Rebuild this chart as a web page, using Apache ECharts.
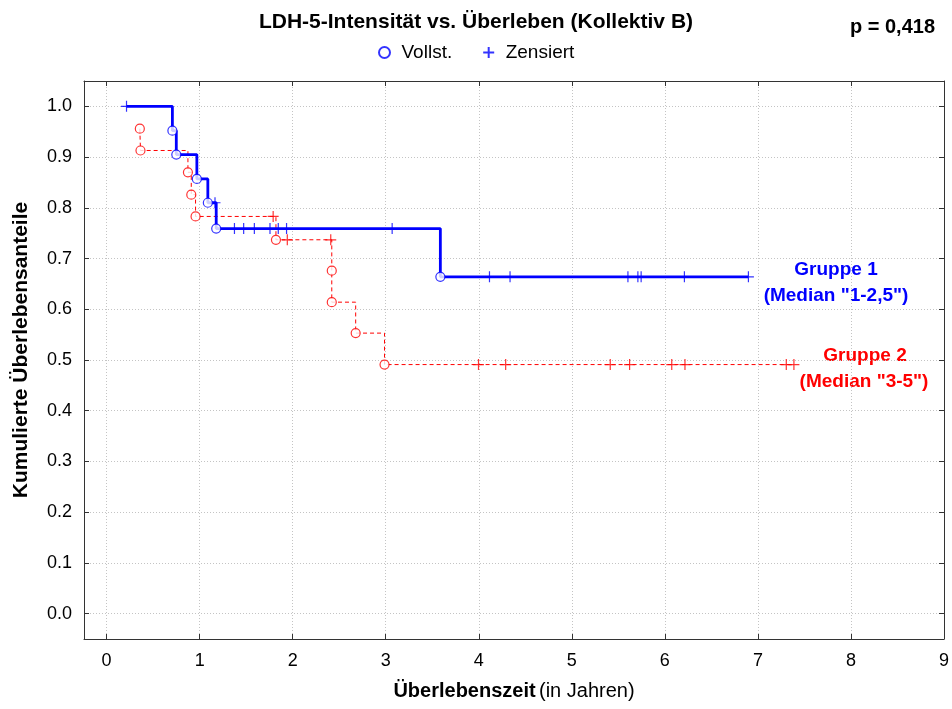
<!DOCTYPE html>
<html>
<head>
<meta charset="utf-8">
<script src="https://cdn.jsdelivr.net/npm/echarts@6/dist/echarts.min.js"></script>
<style>
html,body{margin:0;padding:0;background:#fff;}
#chart{width:952px;height:709px;}
</style>
</head>
<body>
<div id="chart"></div>
<script>
// ---- data ----
const xTicks = [0, 1, 2, 3, 4, 5, 6, 7, 8, 9];
const yTicks = [0.0, 0.1, 0.2, 0.3, 0.4, 0.5, 0.6, 0.7, 0.8, 0.9, 1.0];

// Gruppe 1 (Median "1-2,5") – Kaplan-Meier steps [time, survival]
const g1Curve = [[0.214, 1.0], [0.707, 0.952], [0.749, 0.905], [0.970, 0.857], [1.088, 0.810], [1.178, 0.759], [3.587, 0.664], [6.898, 0.664]];
const g1Deaths = [[0.707, 0.952], [0.749, 0.905], [0.970, 0.857], [1.088, 0.810], [1.178, 0.759], [3.587, 0.664]];
const g1Censored = [[0.214, 1.0], [1.165, 0.810], [1.374, 0.759], [1.473, 0.759], [1.588, 0.759], [1.756, 0.759], [1.845, 0.759], [1.934, 0.759], [3.069, 0.759],
  [4.115, 0.664], [4.336, 0.664], [5.603, 0.664], [5.710, 0.664], [5.745, 0.664], [6.210, 0.664], [6.898, 0.664]];

// Gruppe 2 (Median "3-5")
const g2Curve = [[0.357, 0.956], [0.364, 0.913], [0.874, 0.870], [0.910, 0.826], [0.956, 0.783], [1.820, 0.737], [2.420, 0.676], [2.420, 0.614], [2.677, 0.553], [2.987, 0.491], [7.387, 0.491]];
const g2Deaths = [[0.357, 0.956], [0.364, 0.913], [0.874, 0.870], [0.910, 0.826], [0.956, 0.783], [1.820, 0.737], [2.420, 0.676], [2.420, 0.614], [2.677, 0.553], [2.987, 0.491]];
const g2Censored = [[1.790, 0.783], [1.942, 0.737], [2.409, 0.737], [3.997, 0.491], [4.289, 0.491], [5.413, 0.491], [5.621, 0.491], [6.074, 0.491], [6.216, 0.491], [7.305, 0.491], [7.387, 0.491]];

const titleText = 'LDH-5-Intensität vs. Überleben (Kollektiv B)';
const pText = 'p = 0,418';
const legendNames = ['Vollst.', 'Zensiert'];
const g1Label = ['Gruppe 1', '(Median "1-2,5")'];
const g2Label = ['Gruppe 2', '(Median "3-5")'];

// ---- chart ----
const FONT = '"Liberation Sans", Arial, sans-serif';
const BLUE = '#0000ff';
const RED = '#ff0000';
const PLUS = 'path://M5,0L5,10M0,5L10,5';

const chart = echarts.init(document.getElementById('chart'), null, {renderer: 'canvas'});

const axisCommon = {
  type: 'value',
  axisLine: {show: true, onZero: false, lineStyle: {color: '#333', width: 1}},
};
const gridLine = {show: true, lineStyle: {type: [1, 2], color: '#c4c4c4', width: 1}};

const option = {
  backgroundColor: '#fff',
  animation: false,
  title: [
    {text: titleText, left: 'center', top: 12, padding: 0,
     textStyle: {fontFamily: FONT, fontSize: 21, fontWeight: 'bold', color: '#000'}},
    {text: pText, right: 17, top: 17, padding: 0,
     textStyle: {fontFamily: FONT, fontSize: 20, fontWeight: 'bold', color: '#000'}}
  ],
  legend: {
    data: [{name: legendNames[0]}, {name: legendNames[1]}],
    left: 378, top: 43, padding: 0,
    itemWidth: 14, itemHeight: 11, itemGap: 30,
    textStyle: {fontFamily: FONT, fontSize: 19, color: '#000', padding: [0, 0, 0, 5]}
  },
  grid: {left: 84, top: 81, right: 5, bottom: 70, containLabel: false},
  xAxis: [
    Object.assign({}, axisCommon, {
      position: 'bottom', min: -0.243, max: 9,
      axisTick: {show: true, inside: true, length: 5, customValues: xTicks, lineStyle: {color: '#333'}},
      axisLabel: {customValues: xTicks, margin: 13, fontFamily: FONT, fontSize: 18, color: '#000', formatter: v => String(Math.round(v))},
      splitLine: gridLine,
      name: '{b|Überlebenszeit} {n|(in Jahren)}',
      nameLocation: 'middle', nameGap: 42,
      nameTextStyle: {rich: {
        b: {fontFamily: FONT, fontSize: 20, fontWeight: 'bold', color: '#000'},
        n: {fontFamily: FONT, fontSize: 20, color: '#000'}
      }}
    }),
    Object.assign({}, axisCommon, {
      position: 'top', min: -0.243, max: 9,
      axisTick: {show: true, inside: true, length: 5, customValues: xTicks, lineStyle: {color: '#333'}},
      axisLabel: {show: false},
      splitLine: {show: false}
    })
  ],
  yAxis: [
    Object.assign({}, axisCommon, {
      position: 'left', min: -0.05, max: 1.05,
      axisTick: {show: true, inside: true, length: 5, customValues: yTicks, lineStyle: {color: '#333'}},
      axisLabel: {customValues: yTicks, margin: 12, fontFamily: FONT, fontSize: 18, color: '#000', formatter: v => v.toFixed(1)},
      splitLine: gridLine,
      name: 'Kumulierte Überlebensanteile',
      nameLocation: 'middle', nameGap: 52,
      nameTextStyle: {fontFamily: FONT, fontSize: 21, fontWeight: 'bold', color: '#000', padding: [0, 0, 0, 20]}
    }),
    Object.assign({}, axisCommon, {
      position: 'right', min: -0.05, max: 1.05,
      axisTick: {show: true, inside: true, length: 5, customValues: yTicks, lineStyle: {color: '#333'}},
      axisLabel: {show: false},
      splitLine: {show: false}
    })
  ],
  series: [
    {name: 'Gruppe 1', type: 'line', step: 'end', data: g1Curve, showSymbol: false, z: 3,
     lineStyle: {color: BLUE, width: 2.8}, itemStyle: {color: BLUE}},
    {name: 'Gruppe 2', type: 'line', step: 'end', data: g2Curve, showSymbol: false, z: 2,
     lineStyle: {color: RED, width: 1, type: [4, 3]}, itemStyle: {color: RED}},
    {name: 'Zensiert', type: 'scatter', data: g1Censored, symbol: PLUS, symbolSize: 11, z: 4,
     itemStyle: {color: 'rgba(0,0,0,0)', borderColor: BLUE, borderWidth: 1.2}},
    {name: 'Zensiert G2', type: 'scatter', data: g2Censored, symbol: PLUS, symbolSize: 11, z: 4,
     itemStyle: {color: 'rgba(0,0,0,0)', borderColor: RED, borderWidth: 1.2}},
    {name: 'Vollst.', type: 'scatter', data: g1Deaths, symbol: 'circle', symbolSize: 9, z: 5,
     itemStyle: {color: '#fff', borderColor: BLUE, borderWidth: 1.2}},
    {name: 'Vollst. G2', type: 'scatter', data: g2Deaths, symbol: 'circle', symbolSize: 9, z: 5,
     itemStyle: {color: '#fff', borderColor: RED, borderWidth: 1.2}}
  ],
  graphic: [
    {type: 'text', x: 836, y: 270, style: {text: g1Label[0], fill: BLUE, font: 'bold 19px ' + FONT, align: 'center', verticalAlign: 'middle'}},
    {type: 'text', x: 836, y: 296, style: {text: g1Label[1], fill: BLUE, font: 'bold 19px ' + FONT, align: 'center', verticalAlign: 'middle'}},
    {type: 'text', x: 865, y: 356, style: {text: g2Label[0], fill: RED, font: 'bold 19px ' + FONT, align: 'center', verticalAlign: 'middle'}},
    {type: 'text', x: 864, y: 382, style: {text: g2Label[1], fill: RED, font: 'bold 19px ' + FONT, align: 'center', verticalAlign: 'middle'}}
  ]
};
chart.setOption(option);
</script>
</body>
</html>
